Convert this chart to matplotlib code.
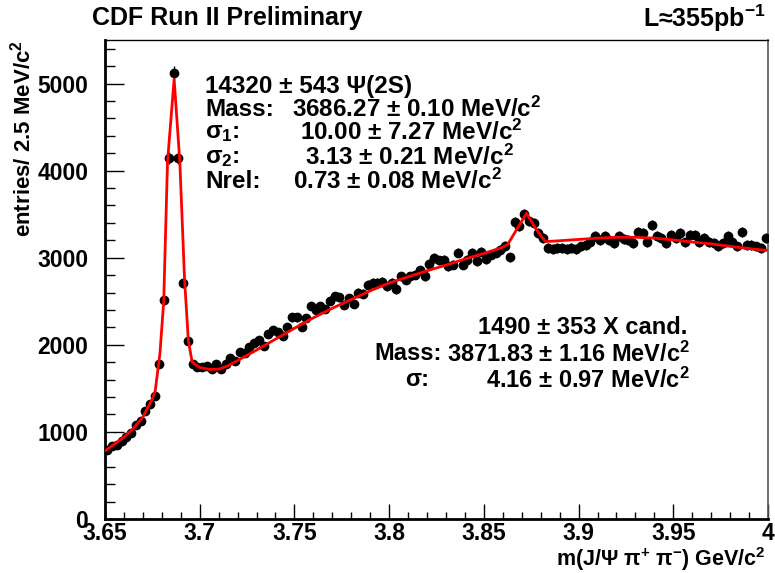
import matplotlib
matplotlib.use("Agg")
import matplotlib.pyplot as plt
import numpy as np
from matplotlib.ticker import MultipleLocator

plt.rcParams['font.family'] = ['Liberation Sans', 'DejaVu Sans']
plt.rcParams['font.weight'] = 'bold'
plt.rcParams['mathtext.fontset'] = 'custom'
plt.rcParams['mathtext.rm'] = 'Liberation Sans:bold'
plt.rcParams['mathtext.bf'] = 'Liberation Sans:bold'
plt.rcParams['mathtext.it'] = 'Liberation Sans:bold'

# histogram: 140 bins of 2.5 MeV from 3.65 GeV
m_low = 3.65
bin_width = 0.0025
counts = [
    790, 840, 850, 890, 945, 990, 1075, 1120, 1240, 1320,
    1415, 1780, 2510, 4145, 5125, 4145, 2710, 2045, 1775, 1750,
    1740, 1760, 1720, 1775, 1720, 1780, 1845, 1810, 1920, 1905,
    1975, 2025, 2055, 1990, 2125, 2165, 2150, 2105, 2200, 2315,
    2315, 2210, 2305, 2445, 2395, 2445, 2410, 2505, 2560, 2545,
    2460, 2535, 2470, 2600, 2585, 2690, 2710, 2715, 2725, 2675,
    2715, 2640, 2785, 2745, 2785, 2805, 2855, 2785, 2930, 2995,
    2970, 2975, 2905, 2920, 3060, 2920, 2975, 3060, 2965, 3070,
    2985, 3035, 3060, 3085, 3135, 3005, 3405, 3360, 3505, 3425,
    3395, 3280, 3225, 3110, 3100, 3110, 3110, 3100, 3110, 3100,
    3130, 3150, 3185, 3245, 3205, 3245, 3205, 3165, 3245, 3215,
    3205, 3165, 3300, 3280, 3185, 3380, 3245, 3225, 3165, 3265,
    3225, 3280, 3175, 3265, 3265, 3175, 3225, 3185, 3165, 3130,
    3165, 3245, 3185, 3130, 3295, 3150, 3150, 3130, 3110, 3225,
]

# fit curve as drawn
fit_mass = [3.6506, 3.655, 3.660, 3.665, 3.670, 3.675, 3.6765, 3.679, 3.681,
            3.683, 3.6865, 3.6895, 3.692, 3.694, 3.696, 3.700, 3.705, 3.710,
            3.715, 3.720, 3.730, 3.740, 3.750, 3.760, 3.770, 3.780, 3.790,
            3.800, 3.810, 3.820, 3.830, 3.840, 3.850, 3.860, 3.8625, 3.8725,
            3.8775, 3.8825, 3.890, 3.900, 3.910, 3.920, 3.930, 3.940, 3.950,
            3.960, 3.970, 3.980, 3.990, 3.999]
fit_vals = [790, 860, 940, 1040, 1170, 1380, 1470, 1900, 2500,
            4100, 5050, 4100, 2750, 2050, 1800, 1740, 1718, 1720,
            1760, 1820, 1940, 2065, 2190, 2310, 2420, 2520, 2620,
            2710, 2780, 2850, 2915, 2985, 3050, 3120, 3150, 3510,
            3330, 3185, 3195, 3210, 3225, 3235, 3235, 3225, 3205,
            3180, 3160, 3130, 3105, 3085]

xtick_labels = ["3.65", "3.7", "3.75", "3.8", "3.85", "3.9", "3.95", "4"]

psi_text = ["14320 \u00b1 543 \u03a8(2S)", "Mass:", "\u03c3$_{1}$:", "\u03c3$_{2}$:", "Nrel:"]
psi_vals = ["", "3686.27 \u00b1 0.10 MeV/c$^{2}$", "10.00 \u00b1 7.27 MeV/c$^{2}$",
            "3.13 \u00b1 0.21 MeV/c$^{2}$", "0.73 \u00b1 0.08 MeV/c$^{2}$"]
x_text = ["1490 \u00b1 353 X cand.", "Mass:", "\u03c3:"]
x_vals = ["", "3871.83 \u00b1 1.16 MeV/c$^{2}$", "4.16 \u00b1 0.97 MeV/c$^{2}$"]

W, H = 775, 573
fig = plt.figure(figsize=(W / 100, H / 100), dpi=100)
ax = fig.add_axes([105 / W, 1 - 519 / H, (768 - 105) / W, (519 - 40) / H])

counts = np.array(counts, dtype=float)
centers = m_low + bin_width * (np.arange(len(counts)) + 0.5)
ax.errorbar(centers, counts, yerr=np.sqrt(counts), fmt='o', color='black',
            ms=6, elinewidth=1, capsize=0, zorder=3)
ax.plot(fit_mass, fit_vals, color='red', lw=2, zorder=4)

ax.set_xlim(3.65, 4.0)
ax.set_ylim(0, 5500)
ax.xaxis.set_minor_locator(MultipleLocator(0.01))
ax.yaxis.set_major_locator(MultipleLocator(1000))
ax.yaxis.set_minor_locator(MultipleLocator(200))
ax.set_xticks(np.linspace(3.65, 4.0, len(xtick_labels)))
ax.set_xticklabels(xtick_labels)
ax.tick_params(axis='x', which='major', direction='in', length=11, width=1, pad=2.5, labelsize=16.5)
ax.tick_params(axis='x', which='minor', direction='in', length=5, width=1)
ax.tick_params(axis='y', which='major', direction='in', length=14, width=1, pad=12, labelsize=16.5)
ax.tick_params(axis='y', which='minor', direction='in', length=7, width=1)
for lab in ax.get_xticklabels() + ax.get_yticklabels():
    lab.set_fontweight('bold')
ax.spines['left'].set_linewidth(2)
ax.spines['bottom'].set_linewidth(2)
ax.spines['top'].set_linewidth(1)
ax.spines['right'].set_linewidth(1.2)
ax.spines['right'].set_color('#555555')


def ftxt(x, y, s, **kw):
    fig.text(x / W, 1 - y / H, s, fontweight='bold', **kw)


ftxt(92, 18, "CDF Run II Preliminary", fontsize=18, ha='left', va='center')
ftxt(766, 18, "L\u2248355pb$^{-1}$", fontsize=18, ha='right', va='center')
ftxt(23, 40, "entries/ 2.5 MeV/c$^{2}$", fontsize=16, rotation=90, ha='center', va='top')
ftxt(766, 559.5, "m(J/\u03a8 \u03c0$^{+}$ \u03c0$^{-}$) GeV/c$^{2}$", fontsize=15.5, ha='right', va='center')

psi_y = [87, 109, 132, 157, 181]
psi_vx = [0, 292, 300, 305, 293]
for s, v, y, vx in zip(psi_text, psi_vals, psi_y, psi_vx):
    ftxt(205, y, s, fontsize=17.5, ha='left', va='center')
    if v:
        ftxt(vx, y, v, fontsize=17.5, ha='left', va='center')

x_y = [328, 354, 380]
x_lx = [478, 374, 405]
for s, v, y, lx in zip(x_text, x_vals, x_y, x_lx):
    ftxt(lx, y, s, fontsize=17, ha='left', va='center')
    if v:
        ftxt(690, y, v, fontsize=17, ha='right', va='center')

fig.savefig("out.png", dpi=100)
